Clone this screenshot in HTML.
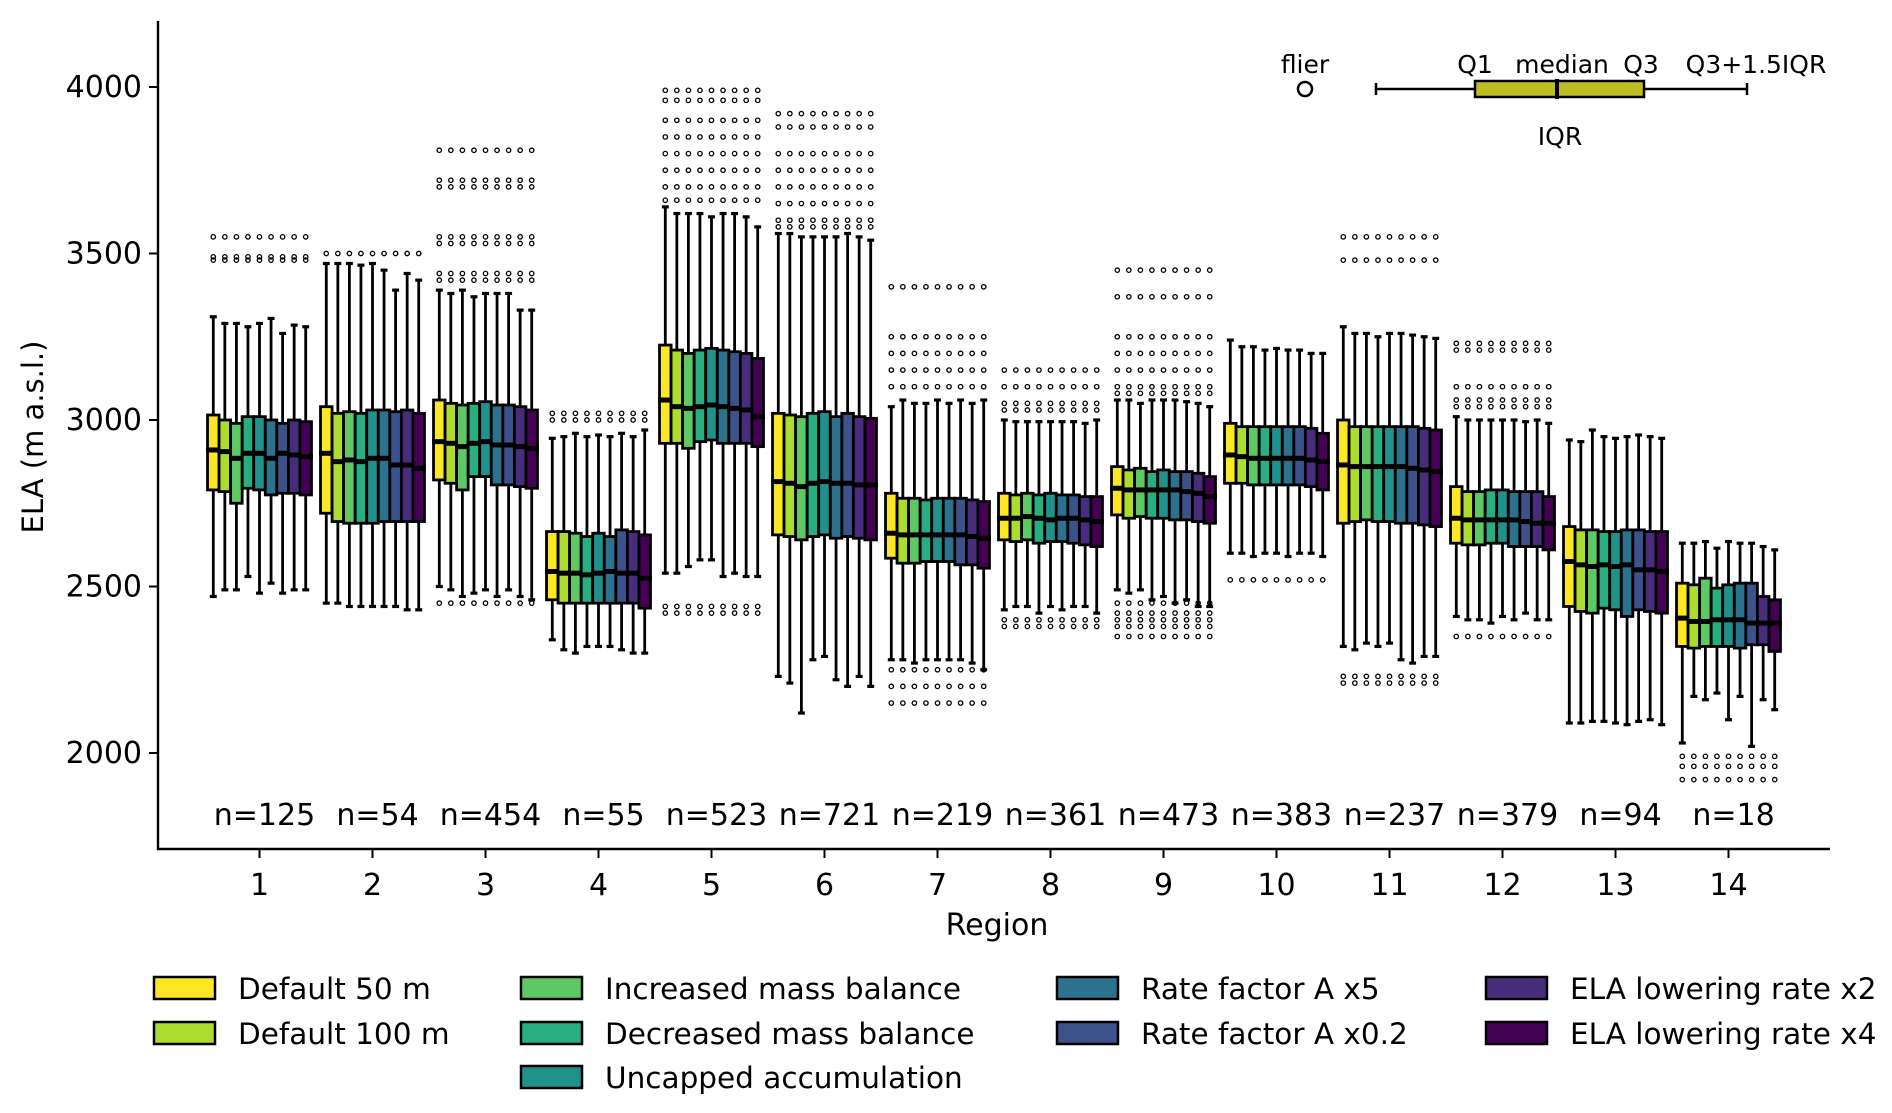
<!DOCTYPE html>
<html><head><meta charset="utf-8">
<style>
html,body{margin:0;padding:0;background:#fff;}
svg{display:block;font-family:"DejaVu Sans","Liberation Sans",sans-serif;}
</style></head>
<body>
<svg id="chart" width="1892" height="1113" viewBox="0 0 1892 1113" xmlns="http://www.w3.org/2000/svg">
<g id="marks"></g>
<g id="axes"></g>
<g id="inset">
  <text x="1305" y="73" font-size="25" text-anchor="middle">flier</text>
  <circle cx="1305" cy="89" r="7" fill="none" stroke="#000" stroke-width="2.5"/>
  <line x1="1376" y1="89" x2="1747" y2="89" stroke="#000" stroke-width="2.5"/>
  <line x1="1376" y1="83" x2="1376" y2="95" stroke="#000" stroke-width="2.5"/>
  <line x1="1747" y1="83" x2="1747" y2="95" stroke="#000" stroke-width="2.5"/>
  <rect x="1475" y="81" width="169" height="16" fill="#bcbd22" stroke="#000" stroke-width="2.5"/>
  <line x1="1557" y1="79" x2="1557" y2="99" stroke="#000" stroke-width="4"/>
  <text x="1475" y="73" font-size="25" text-anchor="middle">Q1</text>
  <text x="1562" y="73" font-size="25" text-anchor="middle">median</text>
  <text x="1641" y="73" font-size="25" text-anchor="middle">Q3</text>
  <text x="1756" y="73" font-size="25" text-anchor="middle">Q3+1.5IQR</text>
  <text x="1560" y="145" font-size="25" text-anchor="middle">IQR</text>
</g>
<g id="legend"></g>
</svg>
<script>
const regions = [1,2,3,4,5,6,7,8,9,10,11,12,13,14];
const nLabels = ["n=125","n=54","n=454","n=55","n=523","n=721","n=219","n=361","n=473","n=383","n=237","n=379","n=94","n=18"];
const seriesNames = ["Default 50 m","Default 100 m","Increased mass balance","Decreased mass balance","Uncapped accumulation","Rate factor A x5","Rate factor A x0.2","ELA lowering rate x2","ELA lowering rate x4"];
const yTicks = [2000,2500,3000,3500,4000];
const medians = [
[2910,2905,2885,2900,2900,2885,2900,2895,2890],
[2900,2875,2880,2875,2885,2885,2865,2865,2855],
[2935,2930,2920,2930,2935,2925,2925,2920,2915],
[2545,2540,2540,2535,2540,2545,2540,2540,2525],
[3060,3040,3035,3040,3045,3040,3035,3030,3010],
[2815,2810,2800,2810,2815,2810,2810,2805,2805],
[2660,2655,2655,2655,2655,2655,2655,2650,2645],
[2705,2705,2710,2705,2700,2705,2705,2700,2695],
[2795,2790,2790,2790,2790,2790,2785,2780,2770],
[2895,2890,2885,2885,2885,2885,2885,2880,2875],
[2865,2860,2860,2860,2860,2860,2855,2850,2845],
[2705,2700,2700,2700,2700,2700,2695,2690,2690],
[2575,2565,2560,2565,2560,2565,2550,2550,2545],
[2405,2395,2395,2400,2400,2400,2390,2390,2390]];
const q1s = [
[2790,2785,2750,2795,2790,2775,2780,2780,2775],
[2720,2695,2690,2690,2690,2695,2695,2695,2695],
[2820,2810,2790,2830,2830,2805,2805,2800,2795],
[2460,2450,2450,2450,2450,2450,2450,2450,2435],
[2930,2930,2915,2935,2940,2930,2930,2930,2920],
[2655,2650,2640,2650,2655,2645,2650,2645,2640],
[2585,2570,2570,2575,2575,2575,2565,2565,2555],
[2640,2635,2640,2630,2635,2635,2630,2625,2620],
[2715,2705,2710,2705,2705,2700,2700,2695,2690],
[2810,2810,2805,2805,2805,2805,2805,2800,2790],
[2690,2695,2700,2695,2695,2690,2690,2685,2680],
[2630,2625,2625,2630,2630,2620,2620,2620,2610],
[2440,2425,2420,2435,2430,2410,2430,2425,2420],
[2320,2315,2320,2320,2320,2315,2325,2325,2305]];
const q3s = [
[3015,3000,2990,3010,3010,3000,2990,3000,2995],
[3040,3020,3025,3020,3030,3030,3025,3030,3020],
[3060,3050,3045,3050,3055,3045,3045,3040,3030],
[2665,2665,2660,2650,2660,2650,2670,2665,2655],
[3225,3210,3200,3210,3215,3210,3205,3200,3185],
[3020,3015,3010,3020,3025,3010,3020,3010,3005],
[2780,2765,2765,2760,2765,2765,2765,2760,2755],
[2780,2775,2780,2775,2780,2775,2775,2770,2770],
[2860,2850,2855,2845,2850,2845,2845,2840,2830],
[2990,2980,2980,2980,2980,2980,2980,2975,2960],
[3000,2980,2980,2980,2980,2980,2980,2975,2970],
[2800,2785,2785,2790,2790,2785,2785,2785,2770],
[2680,2670,2670,2665,2665,2670,2670,2665,2665],
[2510,2505,2525,2495,2505,2510,2510,2470,2460]];
const whiskHi = [
[3310,3290,3290,3280,3290,3305,3260,3285,3280],
[3470,3470,3470,3465,3470,3450,3390,3440,3420],
[3390,3380,3390,3370,3380,3380,3380,3330,3330],
[2945,2950,2960,2950,2955,2950,2960,2950,2970],
[3640,3620,3620,3620,3610,3620,3620,3610,3580],
[3560,3560,3550,3550,3550,3550,3560,3550,3540],
[3040,3060,3050,3050,3060,3050,3060,3050,3060],
[3000,2995,2995,2995,2995,2995,2995,2990,3000],
[3060,3060,3050,3060,3060,3060,3055,3050,3040],
[3240,3220,3220,3210,3215,3210,3210,3200,3200],
[3280,3260,3260,3250,3260,3260,3255,3250,3245],
[3010,3000,3000,3000,3000,3000,2995,3000,2990],
[2940,2935,2970,2950,2945,2950,2955,2950,2945],
[2630,2630,2635,2615,2635,2630,2630,2620,2610]];
const whiskLo = [
[2470,2490,2490,2530,2480,2510,2480,2490,2490],
[2450,2450,2440,2440,2440,2440,2440,2430,2430],
[2500,2490,2470,2480,2490,2470,2490,2470,2460],
[2340,2310,2300,2320,2320,2320,2310,2300,2300],
[2540,2540,2560,2580,2580,2530,2540,2530,2530],
[2230,2210,2120,2280,2290,2220,2200,2230,2200],
[2280,2280,2270,2280,2280,2280,2280,2270,2250],
[2430,2440,2440,2420,2440,2430,2440,2440,2420],
[2490,2480,2490,2460,2470,2450,2460,2440,2440],
[2600,2600,2590,2600,2600,2590,2600,2600,2590],
[2320,2310,2330,2320,2330,2280,2270,2290,2290],
[2410,2400,2400,2390,2410,2400,2420,2400,2400],
[2090,2090,2095,2095,2090,2085,2095,2100,2085],
[2030,2170,2160,2180,2100,2170,2020,2160,2130]];
const fliers = [
[3480,3490,3550],
[3500],
[3810,3720,3700,3550,3530,3440,3420,2450],
[3020,3000],
[3990,3960,3900,3850,3800,3750,3700,3660,2440,2420],
[3920,3880,3800,3750,3700,3650,3600,3580],
[3400,3250,3200,3150,3100,2250,2200,2150],
[3150,3100,3050,3030,2400,2380],
[3450,3370,3250,3200,3150,3100,3080,2450,2420,2400,2380,2350],
[2520],
[3550,3480,2230,2210],
[3230,3210,3100,3060,3040,2350],
[],
[1990,1960,1920]];
const colors = ["#fde725","#addc30","#5ec962","#28ae80","#21918c","#2c728e","#3b528b","#472d7b","#440154"];

const NS="http://www.w3.org/2000/svg";
const L=158,R=1830,T=21,B=849;
function yS(v){return 87+(4000-v)*0.333;}
function xS(r){return 259.5+(r-1)*113;}
const bw=113*0.92/9;
function mk(tag,attrs,parent){const e=document.createElementNS(NS,tag);for(const k in attrs)e.setAttribute(k,attrs[k]);parent.appendChild(e);return e;}
const marks=document.getElementById('marks'),axes=document.getElementById('axes'),leg=document.getElementById('legend');

regions.forEach((r,ri)=>{
  const g=mk('g',{},marks);
  
  
  for(let s=0;s<9;s++){
    const cx=xS(r)+(s-4)*bw;
    const x0=cx-bw/2;
    const w=mk('line',{x1:cx,x2:cx,y1:yS(whiskHi[ri][s]),y2:yS(whiskLo[ri][s]),stroke:'#000','stroke-width':2.8},g);
    
    
    [whiskHi[ri][s],whiskLo[ri][s]].forEach(v=>{
      const c=mk('line',{x1:cx-bw*0.3,x2:cx+bw*0.3,y1:yS(v),y2:yS(v),stroke:'#000','stroke-width':3.2},g);
      
      
    });
    const b=mk('rect',{x:x0,y:yS(q3s[ri][s]),width:bw,height:yS(q1s[ri][s])-yS(q3s[ri][s]),fill:colors[s],stroke:'#000','stroke-width':2.8},g);
    
    
    const m=mk('line',{x1:x0-1.5,x2:x0+bw+1.5,y1:yS(medians[ri][s]),y2:yS(medians[ri][s]),stroke:'#000','stroke-width':5},g);
    
    
    fliers[ri].forEach(v=>{
      const f=mk('circle',{cx:cx,cy:yS(v),r:2.2,fill:'none',stroke:'#000','stroke-width':1.3},g);
      
      
    });
  }
  const t=mk('text',{x:xS(r)+5,y:825,'font-size':30,'text-anchor':'middle'},axes);
  t.textContent=nLabels[ri];
  
  
  const tk=mk('line',{x1:xS(r),x2:xS(r),y1:B,y2:B+9,stroke:'#000','stroke-width':2},axes);
  
  
  const tl=mk('text',{x:xS(r),y:895,'font-size':30,'text-anchor':'middle'},axes);
  tl.textContent=r;
  
  
});

const ys=mk('line',{x1:L,x2:L,y1:T,y2:B+1,stroke:'#000','stroke-width':2.4},axes);


const xs=mk('line',{x1:L-1,x2:R,y1:B,y2:B,stroke:'#000','stroke-width':2.4},axes);


yTicks.forEach(v=>{
  const tk=mk('line',{x1:L-9,x2:L,y1:yS(v),y2:yS(v),stroke:'#000','stroke-width':2},axes);
  
  
  const tl=mk('text',{x:L-16,y:yS(v)+10,'font-size':30,'text-anchor':'end'},axes);
  tl.textContent=v;
  
  
});
const yt=mk('text',{x:0,y:0,'font-size':29,'text-anchor':'middle',transform:'translate(43,437) rotate(-90)'},axes);
yt.textContent='ELA (m a.s.l.)';


const xt=mk('text',{x:997,y:935,'font-size':30,'text-anchor':'middle'},axes);
xt.textContent='Region';



const legCols=[154,521,1057,1486];
const legRows=[988,1033,1077];
const legPos=[[0,0],[0,1],[1,0],[1,1],[1,2],[2,0],[2,1],[3,0],[3,1]];
seriesNames.forEach((n,i)=>{
  const [c,r]=legPos[i];
  const g=mk('g',{},leg);
  
  
  mk('rect',{x:legCols[c],y:legRows[r]-11,width:61,height:22,fill:colors[i],stroke:'#000','stroke-width':2.5},g);
  const t=mk('text',{x:legCols[c]+84,y:legRows[r]+11,'font-size':29.5},g);
  t.textContent=n;
});
</script>
</body></html>
